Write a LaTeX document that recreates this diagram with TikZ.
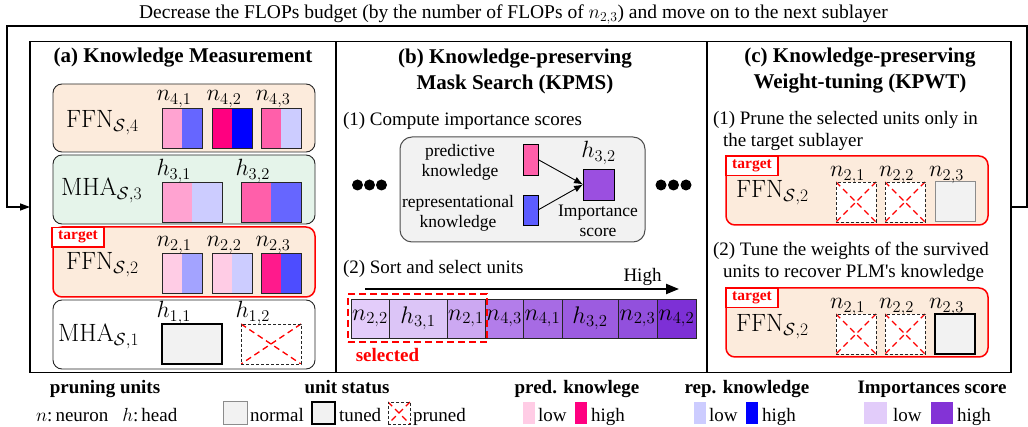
\RequirePackage{fix-cm}
\documentclass[tikz,border=0pt]{standalone}
\usepackage[no-math]{fontspec}
\setmainfont{Liberation Serif}
\usetikzlibrary{arrows.meta}
\definecolor{orF}{HTML}{FCEBDC}
\definecolor{grF}{HTML}{E5F4EA}
\definecolor{gbF}{HTML}{F2F2F2}
\definecolor{pA1}{HTML}{FFA3D1}\definecolor{bA1}{HTML}{6666FF}
\definecolor{pA2}{HTML}{FF0080}\definecolor{bA2}{HTML}{0000FF}
\definecolor{pA3}{HTML}{FF5FAA}\definecolor{bA3}{HTML}{CCCCFF}
\definecolor{pB1}{HTML}{FFCCE5}\definecolor{bB1}{HTML}{A3A3FF}
\definecolor{pB3}{HTML}{FF1A8C}\definecolor{bB3}{HTML}{4D4DFF}
\definecolor{pkC}{HTML}{FF5FAA}\definecolor{bkC}{HTML}{5C5CFF}
\definecolor{impC}{HTML}{9B4FE0}
\definecolor{cA}{HTML}{E3CCFA}\definecolor{cB}{HTML}{DCC5F7}
\definecolor{cC}{HTML}{CCA8F2}\definecolor{cD}{HTML}{B37DEA}
\definecolor{cE}{HTML}{A76BE4}\definecolor{cF}{HTML}{9C5CE0}
\definecolor{cG}{HTML}{9250DD}\definecolor{cH}{HTML}{7D30D6}
\definecolor{impLo}{HTML}{E2CCFA}\definecolor{impHi}{HTML}{8333D6}
\newcommand\fsCap{\fontsize{19.5}{22}\selectfont}
\newcommand\fsBody{\fontsize{19}{22}\selectfont}
\newcommand\fsTitle{\fontsize{21}{26}\selectfont}
\newcommand\fsSmall{\fontsize{17.5}{20}\selectfont}
\newcommand\fsTag{\fontsize{15.5}{18}\selectfont}
\newcommand\fsMath{\fontsize{23.5}{28}\selectfont}
\newcommand\fsCell{\fontsize{24}{28}\selectfont}
\newcommand\fsBig{\fontsize{25}{30}\selectfont}
\begin{document}
\begin{tikzpicture}[x=1pt,y=-1pt,
  every node/.style={inner sep=0pt, outer sep=0pt},
  panel/.style={draw, line width=1.6pt, anchor=north west},
  rowbox/.style={draw=black!85, line width=0.9pt, rounded corners=9pt, anchor=north west},
  tgtbox/.style={draw=red, line width=1.5pt, fill=orF, rounded corners=9pt, anchor=north west},
  tag/.style={draw=red, line width=1.2pt, fill=white, text=red, font=\fsTag\bfseries, anchor=north west, minimum width=52, minimum height=19.5},
  unit/.style={draw=black!85, line width=0.9pt, anchor=north west, minimum width=40, minimum height=40},
  bi/.style 2 args={unit, fill=#2, path picture={\fill[#1] (path picture bounding box.south west) rectangle (path picture bounding box.north);}},
  normalU/.style={unit, draw=black!45, line width=1pt, fill=gbF},
  tunedU/.style={unit, draw=black, line width=2.2pt, fill=gbF},
  prunedU/.style={unit, draw=black!85, dash pattern=on 3pt off 2pt, fill=white,
    path picture={\draw[red, line width=1.3pt, dash pattern=on 6pt off 4pt]
      (path picture bounding box.north west) -- (path picture bounding box.south east)
      (path picture bounding box.north east) -- (path picture bounding box.south west);}},
  lab/.style={anchor=base west, font=\fsMath},
  big/.style={anchor=base west, font=\fsBig},
  body/.style={anchor=base west, font=\fsBody},
  title/.style={anchor=base, font=\fsTitle\bfseries},
  cell/.style={draw=black!85, line width=0.9pt, anchor=north west, minimum height=39, font=\fsCell},
  arr/.style={line width=0.9pt, -{Latex[length=9pt,width=7pt]}},
  sw/.style={anchor=north west, minimum height=22},
  legT/.style={anchor=base, font=\fsBody\bfseries},
  legB/.style={anchor=base west, font=\fsBody}
]
\useasboundingbox (0,0) rectangle (1028,427);

% top caption
\node[anchor=base, font=\fsCap] (top) at (513.5,19) {Decrease the FLOPs budget (by the number of FLOPs of $n_{2,3}$) and move on to the next sublayer};

% panels
\node[panel, minimum width=306, minimum height=331] (pA) at (30,41.5) {};
\node[panel, minimum width=371, minimum height=331] (pB) at (336,41.5) {};
\node[panel, minimum width=304, minimum height=331] (pC) at (707,41.5) {};

% feedback loop
\coordinate (fbR) at (1027,26);
\coordinate (fbL) at (7,26);
\draw[line width=1.3pt, -{Triangle[length=10pt,width=7pt]}] (pC.east) -| (fbR) -- (fbL) |- (pA.west);

% ---------- panel (a)
\node[title] (tA) at (183,63) {(a) Knowledge Measurement};
\node[rowbox, fill=orF, minimum width=262, minimum height=68] (r4) at (53,84) {};
\node[rowbox, fill=grF, minimum width=262, minimum height=69] (r3) at (53,155) {};
\node[tgtbox, minimum width=262, minimum height=70] (r2) at (53,227) {};
\node[rowbox, fill=white, minimum width=262, minimum height=69] (r1) at (53,300) {};
\node[tag] (tg1) at (52,227.5) {target};

\node[big] (l4) at (66,128) {$\mathrm{FFN}_{\mathcal{S},4}$};
\node[big] (l3) at (61,196) {$\mathrm{MHA}_{\mathcal{S},3}$};
\node[big] (l2) at (66,270) {$\mathrm{FFN}_{\mathcal{S},2}$};
\node[big] (l1) at (58,342) {$\mathrm{MHA}_{\mathcal{S},1}$};

\node[bi={pA1}{bA1}] (u41) at (162,108) {};
\node[bi={pA2}{bA2}] (u42) at (212,108) {};
\node[bi={pA3}{bA3}] (u43) at (261,108) {};
\node[lab] (n41) at (156.5,101) {$n_{4,1}$};
\node[lab] (n42) at (206.5,101) {$n_{4,2}$};
\node[lab] (n43) at (255.5,101) {$n_{4,3}$};

\node[bi={pA1}{bA3}, minimum width=60] (u31) at (162,182) {};
\node[bi={pA3}{bA1}, minimum width=60] (u32) at (241,182) {};
\node[lab] (h31) at (156.5,176) {$h_{3,1}$};
\node[lab] (h32) at (235.5,176) {$h_{3,2}$};

\node[bi={pB1}{bB1}] (u21) at (162,253) {};
\node[bi={pB1}{bA3}] (u22) at (212,253) {};
\node[bi={pB3}{bB3}] (u23) at (261,253) {};
\node[lab] (n21) at (156.5,247) {$n_{2,1}$};
\node[lab] (n22) at (206.5,247) {$n_{2,2}$};
\node[lab] (n23) at (255.5,247) {$n_{2,3}$};

\node[tunedU, minimum width=60] (u11) at (162,324) {};
\node[prunedU, minimum width=60] (u12) at (241,324) {};
\node[lab] (h11) at (156.5,318) {$h_{1,1}$};
\node[lab] (h12) at (235.5,318) {$h_{1,2}$};

% ---------- panel (b)
\node[title] (tB1) at (515,64) {(b) Knowledge-preserving};
\node[title] (tB2) at (515,90) {Mask Search (KPMS)};
\node[body] (b1) at (343,126) {(1) Compute importance scores};
\foreach \i/\x in {1/357.5,2/369.5,3/381.5} \fill (\x,185) circle[radius=5.5pt];
\foreach \i/\x in {1/661,2/673.5,3/686} \fill (\x,185) circle[radius=5.5pt];
\node[draw=black!70, line width=1pt, fill=gbF, rounded corners=12pt, anchor=north west, minimum width=245, minimum height=105] (gb) at (400,137) {};
\node[font=\fsSmall, align=center] (pkT) at (460,162) {predictive\\knowledge};
\node[font=\fsSmall, align=center] (rkT) at (458,213) {representational\\knowledge};
\node[draw, line width=0.9pt, fill=pkC, anchor=north west, minimum width=15, minimum height=31] (pk) at (523,144) {};
\node[draw, line width=0.9pt, fill=bkC, anchor=north west, minimum width=15, minimum height=30] (bk) at (523,195) {};
\node[draw, line width=0.9pt, fill=impC, anchor=north west, minimum width=31, minimum height=31] (imp) at (583,169) {};
\node[anchor=base, font=\fsMath] (h32b) at (598.5,158) {$h_{3,2}$};
\node[font=\fsSmall, align=center] (impT) at (598,221) {Importance\\score};
\draw[arr] (pk.east) -- (imp.west);
\draw[arr] (bk.east) -- (imp.west);

\node[body] (b2) at (343,274) {(2) Sort and select units};
\coordinate (s0) at (365,289);
\coordinate (s1) at (679,289);
\draw[line width=2.2pt, -{Triangle[length=13pt,width=10pt]}] (s0) -- (s1);
\node[anchor=base, font=\fsBody] (hi) at (642.5,281.5) {High};

\node[cell, fill=cA, minimum width=38] (c1) at (351,299) {$n_{2,2}$};
\node[cell, fill=cB, minimum width=58] (c2) at (389,299) {$h_{3,1}$};
\node[cell, fill=cC, minimum width=38] (c3) at (447,299) {$n_{2,1}$};
\node[cell, fill=cD, minimum width=38] (c4) at (485,299) {$n_{4,3}$};
\node[cell, fill=cE, minimum width=39] (c5) at (523,299) {$n_{4,1}$};
\node[cell, fill=cF, minimum width=56] (c6) at (562,299) {$h_{3,2}$};
\node[cell, fill=cG, minimum width=39] (c7) at (618,299) {$n_{2,3}$};
\node[cell, fill=cH, minimum width=39] (c8) at (657,299) {$n_{4,2}$};
\node[draw=red, line width=2.5pt, dash pattern=on 7pt off 4pt, anchor=north west, minimum width=139, minimum height=48] (sel) at (348,294) {};
\node[anchor=base, text=red, font=\fsBody\bfseries] (selT) at (387.5,362) {selected};

% ---------- panel (c)
\node[title] (tC1) at (860,63) {(c) Knowledge-preserving};
\node[title] (tC2) at (860,89) {Weight-tuning (KPWT)};
\node[body] (c1a) at (713,125) {(1) Prune the selected units only in};
\node[body] (c1b) at (723,147) {the target sublayer};
\node[tgtbox, minimum width=262, minimum height=69] (cb1) at (726,156) {};
\node[tag] (tg2) at (726,156) {target};
\node[big] (cl1) at (736,198) {$\mathrm{FFN}_{\mathcal{S},2}$};
\node[prunedU] (v21) at (836,182) {};
\node[prunedU] (v22) at (885,182) {};
\node[normalU] (v23) at (935,182) {};
\node[lab] (m21) at (830,177) {$n_{2,1}$};
\node[lab] (m22) at (879,177) {$n_{2,2}$};
\node[lab] (m23) at (929,177) {$n_{2,3}$};

\node[body] (c2a) at (713,256) {(2) Tune the weights of the survived};
\node[body] (c2b) at (723,278) {units to recover PLM\textquotesingle s knowledge};
\node[tgtbox, minimum width=262, minimum height=69] (cb2) at (726,288) {};
\node[tag] (tg3) at (726,288) {target};
\node[big] (cl2) at (736,332) {$\mathrm{FFN}_{\mathcal{S},2}$};
\node[prunedU] (w21) at (836,314) {};
\node[prunedU] (w22) at (885,314) {};
\node[tunedU] (w23) at (935,314) {};
\node[lab] (k21) at (830,309) {$n_{2,1}$};
\node[lab] (k22) at (879,309) {$n_{2,2}$};
\node[lab] (k23) at (929,309) {$n_{2,3}$};

% ---------- legend
\node[legT] (L1) at (105,394) {pruning units};
\node[anchor=base west, font=\fsBody] (L1b) at (36,421) {$n$:\,neuron\hspace{14pt}$h$:\,head};

\node[legT] (L2) at (347,394) {unit status};
\node[normalU, minimum width=24, minimum height=22] (sN) at (223,402) {};
\node[legB] (tN) at (250,421) {normal};
\node[tunedU, minimum width=23, minimum height=22] (sT) at (312,402) {};
\node[legB] (tT) at (339,421) {tuned};
\node[prunedU, minimum width=22, minimum height=22] (sP) at (388,402) {};
\node[legB] (tP) at (413,421) {pruned};

\node[legT] (L3) at (577,394) {pred. knowlege};
\node[sw, fill=pB1, minimum width=12] (q1) at (523,402) {};
\node[legB] (q1t) at (538,421) {low};
\node[sw, fill=pA2, minimum width=12] (q2) at (575,402) {};
\node[legB] (q2t) at (591,421) {high};

\node[legT] (L4) at (747,394) {rep. knowledge};
\node[sw, fill=bA3, minimum width=12] (q3) at (694,402) {};
\node[legB] (q3t) at (709,421) {low};
\node[sw, fill=bA2, minimum width=12] (q4) at (746,402) {};
\node[legB] (q4t) at (762,421) {high};

\node[legT] (L5) at (932,394) {Importances score};
\node[sw, fill=impLo, minimum width=23] (q5) at (864,402) {};
\node[legB] (q5t) at (893,421) {low};
\node[sw, fill=impHi, minimum width=22] (q6) at (931,402) {};
\node[legB] (q6t) at (957,421) {high};
\end{tikzpicture}
\end{document}
